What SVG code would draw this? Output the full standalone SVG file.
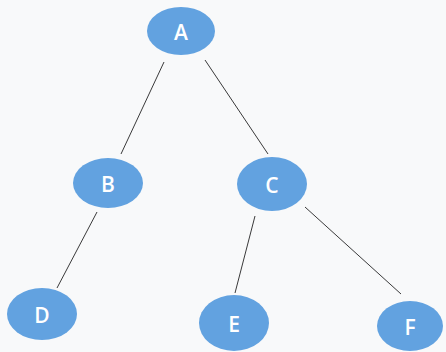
<svg xmlns="http://www.w3.org/2000/svg" width="446" height="352" viewBox="0 0 446 352">
  <style>
    .node ellipse { fill: #62a2e0; }
    .node text { fill: #ffffff; font-family: "Open Sans", "Liberation Sans", sans-serif; font-size: 21px; font-weight: 600; text-anchor: middle; dominant-baseline: central; }
    .edges line { stroke: #3a3a3a; stroke-width: 1; }
  </style>
  <rect width="446" height="352" fill="#f8f9fa"/>
  <g id="edges" class="edges">
    <line x1="164" y1="62" x2="121" y2="154"/>
    <line x1="205" y1="60" x2="268" y2="154"/>
    <line x1="97" y1="212" x2="57" y2="288"/>
    <line x1="255" y1="216" x2="235" y2="293"/>
    <line x1="305" y1="207" x2="401" y2="294"/>
  </g>
  <g id="node-A" class="node">
    <ellipse cx="181" cy="31" rx="34" ry="24"/>
    <text x="181" y="32">A</text>
  </g>
  <g id="node-B" class="node">
    <ellipse cx="108" cy="183" rx="35" ry="25"/>
    <text x="108" y="184">B</text>
  </g>
  <g id="node-C" class="node">
    <ellipse cx="272" cy="184" rx="35" ry="27"/>
    <text x="272" y="185">C</text>
  </g>
  <g id="node-D" class="node">
    <ellipse cx="42" cy="314" rx="35" ry="26"/>
    <text x="42" y="315">D</text>
  </g>
  <g id="node-E" class="node">
    <ellipse cx="234" cy="323" rx="35" ry="28"/>
    <text x="234" y="324">E</text>
  </g>
  <g id="node-F" class="node">
    <ellipse cx="410" cy="326" rx="33" ry="25"/>
    <text x="410" y="327">F</text>
  </g>
</svg>
